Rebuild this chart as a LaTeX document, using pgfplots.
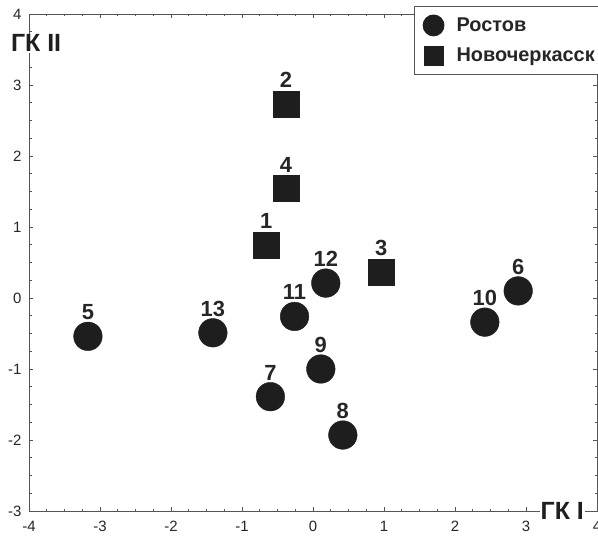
\documentclass[border=0pt]{standalone}
\usepackage{fontspec}
\setmainfont{Liberation Sans}
\usepackage{pgfplots}
\pgfplotsset{compat=1.18}
\definecolor{mk}{HTML}{1E1E1E}
\definecolor{ax}{HTML}{555555}
\begin{document}
\begin{tikzpicture}
\begin{axis}[
  name=ax,
  scale only axis, width=568bp, height=497bp,
  xmin=-4, xmax=4, ymin=-3, ymax=4,
  xtick={-4,...,4}, ytick={-3,...,4},
  minor tick num=3,
  tick align=inside,
  major tick length=4bp, minor tick length=2.5bp,
  axis line style={draw=ax, line width=0.9pt},
  every tick/.style={ax, line width=0.7pt},
  /pgf/number format/assume math mode=true,
  ticklabel style={font=\fontsize{15}{18}\selectfont, text=black!85},
  xticklabel style={yshift=-7bp},
  yticklabel style={xshift=-4bp},
  clip=false,
  legend style={at={(rel axis cs:0.678,1.016)}, anchor=north west,
    draw=ax, line width=0.9pt, font=\bfseries\fontsize{20}{23}\selectfont,
    text=black!85, row sep=10bp, inner xsep=4bp, inner ysep=8.5bp},
  legend cell align=left,
  legend image code/.code={%
    \path[draw=none, fill=none] (0bp,-10bp) rectangle (36bp,10bp);
    \draw[#1] plot coordinates {(15bp,0bp)};},
  legend image post style={/tikz/every mark/.append style={scale=0.73}},
  every node near coord/.append style={font=\bfseries\fontsize{22}{26}\selectfont, anchor=base, yshift=16.5bp, inner sep=0pt, text=black!85},
]
\addplot[only marks, mark=*, mark size=14.3bp, draw=mk, fill=mk,
  nodes near coords, point meta=explicit symbolic]
  table[meta=label] {
x y label
-3.17 -0.54 5
-1.41 -0.49 13
-0.26 -0.26 11
0.18 0.21 12
0.11 -1.00 9
-0.60 -1.39 7
0.42 -1.93 8
2.42 -0.34 10
2.89 0.10 6
};
\addlegendentry{Ростов}
\addplot[only marks, mark=square*, mark size=13bp, draw=mk, fill=mk,
  nodes near coords, point meta=explicit symbolic]
  table[meta=label] {
x y label
-0.66 0.75 1
-0.38 2.73 2
0.96 0.37 3
-0.38 1.54 4
};
\addlegendentry{Новочеркасск}
\node[fill=white, inner sep=1pt, font=\bfseries\fontsize{25}{28}\selectfont, text=black!88] at (axis cs:-3.9,3.59) {ГК II};
\node[fill=white, inner sep=1pt, font=\bfseries\fontsize{25}{28}\selectfont, text=black!88] at (axis cs:3.51,-3) {ГК I};
\end{axis}
\pgfresetboundingbox
\path ([xshift=-29bp,yshift=-30bp]ax.south west) rectangle ([xshift=1bp,yshift=14bp]ax.north east);
\end{tikzpicture}
\end{document}
